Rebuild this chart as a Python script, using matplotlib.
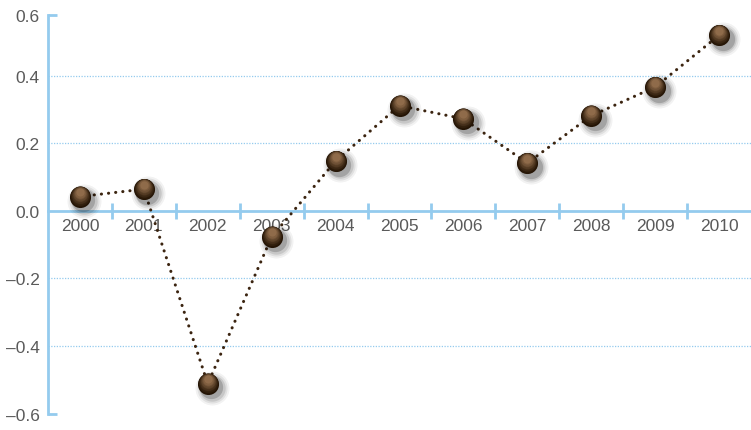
import matplotlib
matplotlib.use("Agg")
import matplotlib.pyplot as plt
import matplotlib.transforms as mtransforms
import numpy as np

# data
years = ["2000", "2001", "2002", "2003", "2004", "2005",
         "2006", "2007", "2008", "2009", "2010"]
values = [0.042, 0.064, -0.512, -0.077, 0.147, 0.311,
          0.272, 0.141, 0.281, 0.366, 0.519]
y_ticks = [-0.6, -0.4, -0.2, 0.0, 0.2, 0.4, 0.58]
y_labels = ["\u20130.6", "\u20130.4", "\u20130.2", "0.0", "0.2", "0.4", "0.6"]
grid_levels = [-0.4, -0.2, 0.2, 0.4]

axis_blue = "#94cbee"
text_gray = "#5a5a5a"

plt.rcParams['font.family'] = ['Liberation Sans', 'DejaVu Sans']

fig = plt.figure(figsize=(7.51, 4.31), dpi=100)
ax = fig.add_axes([48 / 751, 1 - 414.6 / 431, 703 / 751, 398.9 / 431])

x = np.arange(len(years))
ax.set_xlim(-0.5, len(years) - 0.5)
ax.set_ylim(-0.6, 0.58)

# dotted grid lines
for g in grid_levels:
    ax.axhline(g, color=axis_blue, lw=0.9, ls=(0, (1, 1.2)), zorder=1)

# spines
for s in ["top", "right"]:
    ax.spines[s].set_visible(False)
ax.spines["left"].set_color(axis_blue)
ax.spines["left"].set_linewidth(2)
ax.spines["bottom"].set_color(axis_blue)
ax.spines["bottom"].set_linewidth(2)
ax.spines["bottom"].set_position(("data", 0))

# y ticks: labels at all, small caps only at the ends
ax.set_yticks(y_ticks)
ax.set_yticklabels(y_labels, color=text_gray, fontsize=12.5)
ax.tick_params(axis="y", length=0, pad=6)
for yy in (-0.6, 0.58):
    ax.plot([-0.5, -0.36], [yy, yy], color=axis_blue, lw=2,
            solid_capstyle="butt", clip_on=False, zorder=2)

# x ticks: marks at band edges, labels at centres
ax.set_xticks(np.arange(0.5, len(years) - 0.5, 1))
ax.set_xticklabels([])
ax.tick_params(axis="x", which="major", direction="inout", length=12,
               width=2, color=axis_blue)
ax.set_xticks(x, minor=True)
ax.set_xticklabels(years, minor=True, color=text_gray, fontsize=12.5)
ax.tick_params(axis="x", which="minor", length=0, pad=5)

# dotted connecting line
ax.plot(x, values, color="#3b2410", lw=2.2, ls=(0, (0.05, 2.3)),
        dash_capstyle="round", zorder=3)

# ball markers: blurred shadow
for dx, dy, a, s in [(3, -3, 0.05, 600), (3, -3, 0.07, 470),
                     (3, -3, 0.11, 360), (2.5, -2.5, 0.18, 280)]:
    tr = mtransforms.offset_copy(ax.transData, fig=fig, x=dx, y=dy, units="points")
    ax.scatter(x, values, s=s, color="black", alpha=a, lw=0,
               transform=tr, zorder=4)

# ball body: stacked circles for a soft gradient, light towards the top
dark = np.array([0.14, 0.08, 0.02])
light = np.array([0.56, 0.42, 0.29])
n = 10
for i in range(n):
    t = i / (n - 1)
    size = 230 * (1 - 0.85 * t)
    off = 3.2 * t
    col = dark + (light - dark) * t ** 1.4
    tr = mtransforms.offset_copy(ax.transData, fig=fig, x=0, y=off, units="points")
    ax.scatter(x, values, s=size, color=col, lw=0, transform=tr, zorder=5 + i * 0.1)

fig.savefig("out.png", dpi=100)
